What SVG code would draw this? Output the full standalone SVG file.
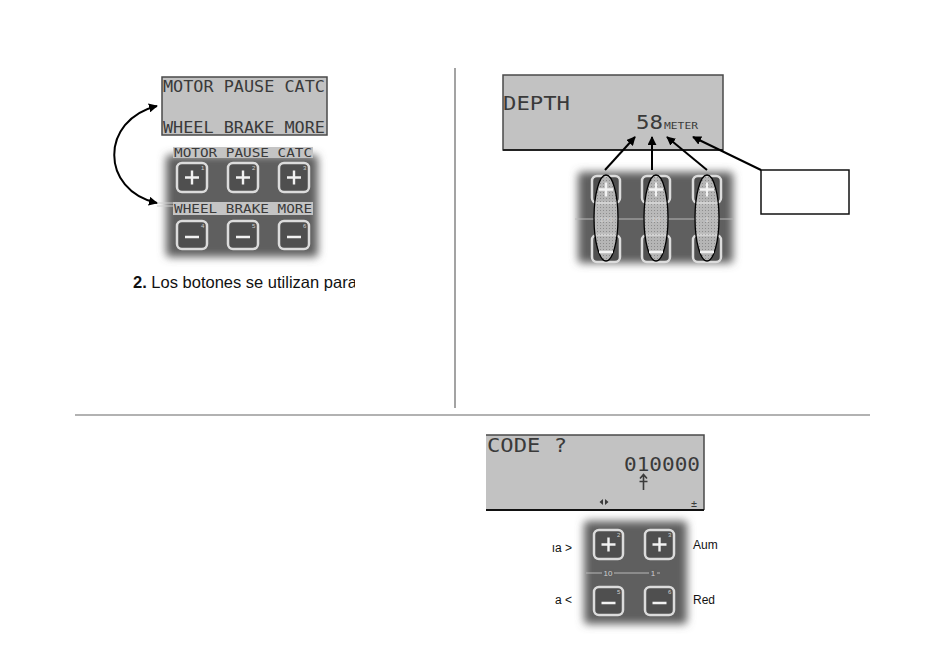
<svg xmlns="http://www.w3.org/2000/svg" width="950" height="655" viewBox="0 0 950 655">
<style>
.lcd{fill:#c2c2c2;stroke:#4a4a4a;stroke-width:1.5}
.lt{font-family:"DejaVu Sans Mono","Liberation Mono",monospace;fill:#3a3a3a}
.strip{fill:#c4c4c4}
.st{font-family:"DejaVu Sans Mono","Liberation Mono",monospace;fill:#3a3a3a;font-size:12px}
.body{fill:#5e5e5e;filter:url(#soft)}
.btn{fill:#4f4f4f;stroke:#dcdcdc;stroke-width:2.5}
.sym{stroke:#f2f2f2;stroke-width:2.4;fill:none}
.sup{font-family:"Liberation Sans",Arial,sans-serif;font-size:6px;fill:#d0d0d0}
.kl{font-family:"Liberation Sans",Arial,sans-serif;font-size:8px;fill:#cfcfcf}
.kline{stroke:#b8b8b8;stroke-width:1}
.txt{font-family:"Liberation Sans",Arial,sans-serif;fill:#111}
.conn{stroke:#000;stroke-width:2;fill:none}
.div{stroke:#666;stroke-width:1.2}
.ell{fill:url(#dots);fill-opacity:0.8;stroke:#000;stroke-width:1.3}
</style>
<defs>
<filter id="soft" x="-20%" y="-20%" width="140%" height="140%"><feGaussianBlur stdDeviation="4"/></filter>
<marker id="ah" viewBox="0 0 10 10" refX="9" refY="5" markerWidth="9" markerHeight="9" markerUnits="userSpaceOnUse" orient="auto-start-reverse"><path d="M0,0 L10,5 L0,10 z" fill="#000"/></marker>
<pattern id="dots" width="3" height="3" patternUnits="userSpaceOnUse"><rect width="3" height="3" fill="#cfcfcf"/><rect width="1" height="1" fill="#9a9a9a"/></pattern>
<clipPath id="clipTxt"><rect x="0" y="260" width="355" height="40"/></clipPath>
</defs>

<g id="dividers">
<line class="div" x1="455" y1="68" x2="455" y2="408"/>
<line class="div" x1="75" y1="415" x2="870" y2="415"/>
</g>

<g id="lcd-menu">
<rect class="lcd" x="162" y="77" width="165" height="58"/>
<text class="lt" x="163" y="92" font-size="15" textLength="162" lengthAdjust="spacingAndGlyphs">MOTOR PAUSE CATC</text>
<text class="lt" x="163" y="133" font-size="15" textLength="162" lengthAdjust="spacingAndGlyphs">WHEEL BRAKE MORE</text>
</g>

<g id="keypad-menu">
<rect class="body" x="166" y="155" width="152" height="102" rx="4"/>
<rect class="strip" x="173" y="147" width="140" height="11"/>
<text class="st" x="174" y="157" textLength="138" lengthAdjust="spacingAndGlyphs">MOTOR PAUSE CATC</text>
<rect class="strip" x="173" y="202" width="140" height="13"/>
<text class="st" x="174" y="213" textLength="138" lengthAdjust="spacingAndGlyphs">WHEEL BRAKE MORE</text>
<line x1="157" y1="203" x2="173" y2="203" stroke="#d0d0d0" stroke-width="1"/>
<line x1="157" y1="206" x2="173" y2="206" stroke="#d0d0d0" stroke-width="1"/>
<rect class="btn" x="177" y="163" width="30" height="29" rx="5"/>
<rect class="btn" x="228" y="163" width="30" height="29" rx="5"/>
<rect class="btn" x="279" y="163" width="30" height="29" rx="5"/>
<path class="sym" d="M185,177.5 h14 M192,170.5 v14 M236,177.5 h14 M243,170.5 v14 M287,177.5 h14 M294,170.5 v14"/>
<text class="sup" x="201" y="170">1</text><text class="sup" x="252" y="170">2</text><text class="sup" x="303" y="170">3</text>
<rect class="btn" x="177" y="221" width="30" height="28" rx="5"/>
<rect class="btn" x="228" y="221" width="30" height="28" rx="5"/>
<rect class="btn" x="279" y="221" width="30" height="28" rx="5"/>
<path class="sym" d="M185,237 h14 M236,237 h14 M287,237 h14"/>
<text class="sup" x="201" y="228">4</text><text class="sup" x="252" y="228">5</text><text class="sup" x="303" y="228">6</text>
</g>

<g id="caption-1" clip-path="url(#clipTxt)">
<text class="txt" x="133" y="288" font-size="16.5"><tspan font-weight="bold">2.</tspan> Los botones se utilizan para</text>
</g>

<g id="lcd-depth">
<rect class="lcd" x="503" y="75" width="220" height="75"/>
<line x1="503" y1="150" x2="723" y2="150" stroke="#222" stroke-width="2"/>
<text class="lt" x="503" y="110" font-size="19" textLength="67" lengthAdjust="spacingAndGlyphs">DEPTH</text>
<text class="lt" x="636" y="129" font-size="20" textLength="27" lengthAdjust="spacingAndGlyphs">58</text>
<text class="lt" x="664" y="129" font-size="9" textLength="34" lengthAdjust="spacingAndGlyphs">METER</text>
</g>

<g id="keypad-depth">
<rect class="body" x="578" y="172" width="155" height="91" rx="4"/>
<line class="kline" x1="575" y1="219" x2="733" y2="219"/>
<rect class="btn" x="592" y="176" width="28" height="27" rx="5"/>
<rect class="btn" x="642" y="176" width="28" height="27" rx="5"/>
<rect class="btn" x="693" y="176" width="28" height="27" rx="5"/>
<rect class="btn" x="592" y="235" width="28" height="27" rx="5"/>
<rect class="btn" x="642" y="235" width="28" height="27" rx="5"/>
<rect class="btn" x="693" y="235" width="28" height="27" rx="5"/>
<ellipse class="ell" cx="606" cy="218" rx="12" ry="43"/>
<ellipse class="ell" cx="656" cy="218" rx="12" ry="43"/>
<ellipse class="ell" cx="707" cy="218" rx="12" ry="43"/>
<path class="sym" d="M599,189.5 h14 M606,182.5 v14 M649,189.5 h14 M656,182.5 v14 M700,189.5 h14 M707,182.5 v14 M599,252 h14 M649,252 h14 M700,252 h14"/>
<text class="kl" x="606" y="222" text-anchor="middle">100</text>
<text class="kl" x="656" y="222" text-anchor="middle">10</text>
<text class="kl" x="707" y="222" text-anchor="middle">1</text>
</g>

<g id="note-box">
<rect x="761" y="170" width="88" height="44" fill="#fff" stroke="#111" stroke-width="1.5"/>
</g>

<g id="lcd-code">
<rect x="486" y="435" width="218" height="75" fill="#c2c2c2"/>
<path d="M486,435 H704 V510" fill="none" stroke="#4a4a4a" stroke-width="1.5"/>
<line x1="486" y1="510" x2="704" y2="510" stroke="#111" stroke-width="2"/>
<text class="lt" x="487" y="452" font-size="19" textLength="80" lengthAdjust="spacingAndGlyphs">CODE ?</text>
<text class="lt" x="624" y="471" font-size="19" textLength="76" lengthAdjust="spacingAndGlyphs">010000</text>
<path d="M643.5,475 V490 M639.5,481.5 h8 M640,478.5 l3.5,-4 l3.5,4" fill="none" stroke="#3a3a3a" stroke-width="1.6"/>
<path d="M603,499 l-3.5,3 l3.5,3 z M605,499 l3.5,3 l-3.5,3 z" fill="#3a3a3a"/>
<text class="lt" x="694" y="507" font-size="10" text-anchor="middle">±</text>
</g>

<g id="keypad-code">
<rect class="body" x="584" y="521" width="103" height="103" rx="4"/>
<line class="kline" x1="586" y1="573" x2="660" y2="573"/>
<rect class="btn" x="594" y="530" width="29" height="29" rx="5"/>
<rect class="btn" x="645" y="530" width="29" height="29" rx="5"/>
<rect class="btn" x="594" y="587" width="29" height="28" rx="5"/>
<rect class="btn" x="645" y="587" width="29" height="28" rx="5"/>
<path class="sym" d="M601.5,544.5 h14 M608.5,537.5 v14 M652.5,544.5 h14 M659.5,537.5 v14 M601.5,603 h14 M652.5,603 h14"/>
<text class="sup" x="617" y="537">2</text><text class="sup" x="668" y="537">3</text>
<text class="sup" x="617" y="594">5</text><text class="sup" x="668" y="594">6</text>
<rect x="602" y="569" width="12" height="8" fill="#5e5e5e"/>
<text class="kl" x="608" y="576" text-anchor="middle">10</text>
<rect x="649" y="569" width="8" height="8" fill="#5e5e5e"/>
<text class="kl" x="653" y="576" text-anchor="middle">1</text>
</g>

<g id="labels-code">
<text class="txt" x="572" y="552" font-size="12" text-anchor="end">ıa &gt;</text>
<text class="txt" x="572" y="604" font-size="12" text-anchor="end">a &lt;</text>
<text class="txt" x="693" y="549" font-size="12">Aum</text>
<text class="txt" x="693" y="604" font-size="12">Red</text>
</g>

<g id="connectors">
<path class="conn" d="M157,106 C100,120 100,190 157,203" marker-start="url(#ah)" marker-end="url(#ah)"/>
<line class="conn" x1="605" y1="170" x2="635" y2="137" marker-end="url(#ah)"/>
<line class="conn" x1="652" y1="170" x2="652" y2="137" marker-end="url(#ah)"/>
<line class="conn" x1="707" y1="170" x2="667" y2="137" marker-end="url(#ah)"/>
<line class="conn" x1="761" y1="170" x2="693" y2="137" marker-end="url(#ah)"/>
</g>
</svg>
